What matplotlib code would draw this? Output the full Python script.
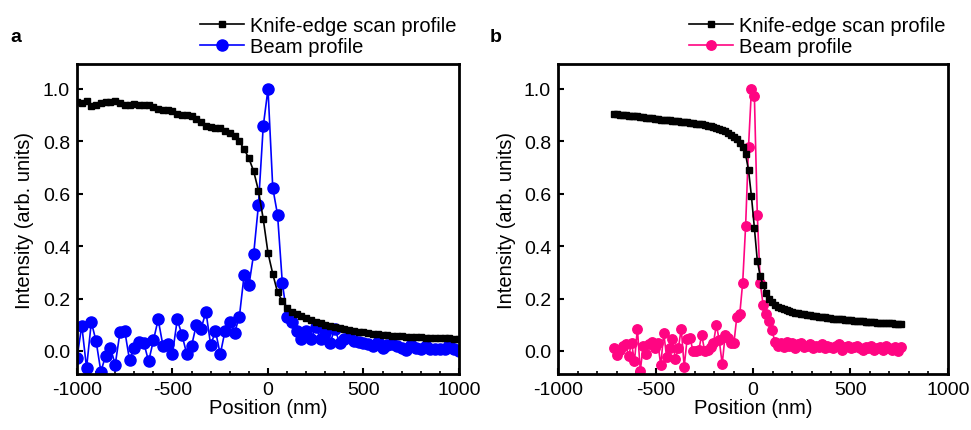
import numpy as np
import matplotlib
matplotlib.use("Agg")
import matplotlib.pyplot as plt
from matplotlib.ticker import MultipleLocator, FormatStrFormatter

# 글꼴 (Arial 비슷한 것), 음수 부호는 하이픈
plt.rcParams['font.family'] = ['Liberation Sans', 'DejaVu Sans']
plt.rcParams['axes.unicode_minus'] = False

# ---------------- 데이터 ----------------
# (a) 위치: 25 nm 간격 측정점
pos_a = np.arange(-1000, 1001, 25)

knife_a = [0.95, 0.945, 0.953, 0.935, 0.94, 0.947, 0.95, 0.95, 0.955, 0.945,
           0.94, 0.94, 0.942, 0.94, 0.94, 0.938, 0.93, 0.925, 0.92, 0.918,
           0.915, 0.905, 0.9, 0.9, 0.895, 0.885, 0.875, 0.86, 0.855, 0.85,
           0.85, 0.84, 0.83, 0.82, 0.80,
           0.77, 0.735, 0.686, 0.612, 0.504, 0.374, 0.294, 0.224, 0.19, 0.165,
           0.15, 0.14, 0.133, 0.125, 0.118, 0.112, 0.106, 0.1, 0.096, 0.092,
           0.088, 0.084, 0.08, 0.077, 0.074, 0.071, 0.068, 0.066, 0.064, 0.062,
           0.06, 0.058, 0.057, 0.056, 0.055, 0.054, 0.053, 0.052, 0.051, 0.05,
           0.05, 0.049, 0.048, 0.048, 0.047, 0.047]

beam_a = [-0.027, 0.097, -0.065, 0.11, 0.037, -0.079, -0.018, 0.013, -0.053, 0.071,
          0.077, -0.035, 0.01, 0.033, 0.03, -0.04, 0.04, 0.12, 0.02, 0.025,
          -0.01, 0.12, 0.06, -0.013, 0.02, 0.1, 0.085, 0.15, 0.022, 0.076,
          -0.013, 0.076, 0.11, 0.07, 0.13, 0.29, 0.25, 0.37, 0.557, 0.857,
          1.0,
          0.622, 0.52, 0.26, 0.13, 0.11, 0.077, 0.045, 0.077, 0.045, 0.09,
          0.047, 0.067, 0.03, 0.085, 0.03, 0.047, 0.055, 0.038, 0.035, 0.032,
          0.026, 0.02, 0.035, 0.013, 0.022, 0.026, 0.017, 0.013, 0.004, 0.022,
          0.013, 0.009, 0.017, 0.009, 0.006, 0.009, 0.006, 0.022, 0.009, 0.0]

# (b) 위치: 15 nm 간격 측정점
pos_b = np.arange(-713, 758, 15)

knife_b = [0.905, 0.903, 0.902, 0.90, 0.90, 0.898, 0.897, 0.895, 0.895, 0.893,
           0.892, 0.89, 0.888, 0.888, 0.886, 0.885, 0.883, 0.882, 0.88, 0.88,
           0.878, 0.877, 0.876, 0.875, 0.873, 0.872, 0.87, 0.869, 0.868, 0.866,
           0.865, 0.863, 0.86, 0.858, 0.855, 0.85, 0.846, 0.842, 0.838, 0.832,
           0.826, 0.818, 0.81, 0.795,
           0.778, 0.75, 0.69, 0.59, 0.47, 0.345, 0.285, 0.25, 0.22, 0.2, 0.185,
           0.175, 0.168, 0.163, 0.159, 0.155, 0.152, 0.149, 0.146, 0.144, 0.142,
           0.14, 0.138, 0.136, 0.134, 0.132, 0.131, 0.129, 0.128, 0.126, 0.125,
           0.123, 0.122, 0.121, 0.12, 0.119, 0.118, 0.117, 0.116, 0.115, 0.114,
           0.113, 0.112, 0.111, 0.11, 0.109, 0.108, 0.108, 0.107, 0.106, 0.105,
           0.105, 0.104, 0.103, 0.103]

beam_b = [0.01, -0.015, 0.005, 0.02, 0.025, -0.02, 0.03, -0.04, 0.085, -0.075,
          0.02, -0.01, 0.025, 0.035, 0.01, 0.03, -0.055, 0.07, -0.025, 0.01,
          0.045, -0.03, 0.01, 0.085, -0.06, 0.045, 0.05, 0.0, 0.0, 0.005,
          0.06, 0.0, 0.005, 0.015, 0.03, 0.1, 0.04, -0.05, 0.06, 0.05,
          0.03, 0.03, 0.13, 0.14,
          0.26, 0.475, 0.78, 1.0, 0.975, 0.52, 0.26, 0.175, 0.14, 0.115, 0.08,
          0.035, 0.02, 0.03, 0.015, 0.035, 0.02, 0.03, 0.01, 0.025, 0.03,
          0.015, 0.02, 0.025, 0.01, 0.02, 0.015, 0.025, 0.01, 0.02, 0.015,
          0.01, 0.02, 0.025, 0.005, 0.015, 0.02, 0.01, 0.015, 0.02, 0.01,
          0.005, 0.015, 0.01, 0.02, 0.005, 0.01, 0.015, 0.005, 0.02, 0.01,
          0.005, 0.015, 0.0, 0.015]

panels = [
    ('a', pos_a, knife_a, beam_a, '#0000FF', 8.0, 0.322, [0.0793, 0.130, 0.3934, 0.719]),
    ('b', pos_b, knife_b, beam_b, '#FF0582', 6.8, 0.336, [0.5747, 0.130, 0.4016, 0.719]),
]

fig = plt.figure(figsize=(9.71, 4.31), dpi=100)

for letter, pos, knife, beam, color, msize, leg_x, rect in panels:
    ax = fig.add_axes(rect)

    # 나이프 에지 스캔, 빔 프로파일
    ax.plot(pos, knife, color='black', lw=1.2, marker='s', ms=4,
            label='Knife-edge scan profile', zorder=3)
    ax.plot(pos, beam, color=color, lw=1.2, marker='o', ms=msize,
            label='Beam profile', zorder=2)

    # 축 범위, 눈금
    ax.set_xlim(-1000, 1000)
    ax.set_ylim(-0.088, 1.095)
    ax.xaxis.set_major_locator(MultipleLocator(500))
    ax.xaxis.set_minor_locator(MultipleLocator(100))
    ax.yaxis.set_major_locator(MultipleLocator(0.2))
    ax.yaxis.set_major_formatter(FormatStrFormatter('%.1f'))
    ax.yaxis.set_minor_locator(plt.NullLocator())
    ax.tick_params(which='major', direction='in', length=4, width=1.5,
                   labelsize=14, pad=5, top=False, right=False)
    ax.tick_params(which='minor', direction='in', length=2.5, width=1.2,
                   top=False, right=False)
    for s in ax.spines.values():
        s.set_linewidth(2)

    ax.set_xlabel('Position (nm)', fontsize=14.5, labelpad=0)
    ax.set_ylabel('Intensity (arb. units)', fontsize=14.5, labelpad=6)

    # 범례 (축 위쪽, 테두리 없음)
    ax.legend(loc='lower left', bbox_to_anchor=(leg_x, 1.025), frameon=False,
              fontsize=14.5, handlelength=2.2, handletextpad=0.3,
              labelspacing=0.1, borderaxespad=0, borderpad=0)

    # 패널 문자
    ax.text(-0.175, 1.09, letter, transform=ax.transAxes, fontsize=14,
            fontweight='bold', va='center', ha='left')

fig.savefig('out.png', dpi=100)
